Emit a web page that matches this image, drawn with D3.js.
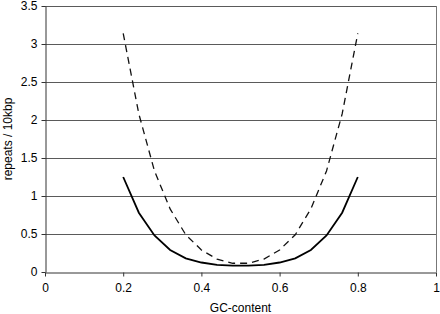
<!DOCTYPE html>
<html>
<head>
<meta charset="utf-8">
<script src="https://cdn.jsdelivr.net/npm/d3@7"></script>
<style>
  body { margin: 0; background: #fff; }
  svg { display: block; font-family: "Liberation Sans", Arial, sans-serif; }
</style>
</head>
<body>
<svg></svg>
<script>
let gcContent = [0.2, 0.24, 0.28, 0.32, 0.36, 0.4, 0.44, 0.48, 0.52, 0.56, 0.6, 0.64, 0.68, 0.72, 0.76, 0.8]
let solidValues = [1.25, 0.78, 0.48, 0.29, 0.18, 0.125, 0.095, 0.085, 0.085, 0.095, 0.125, 0.18, 0.29, 0.48, 0.78, 1.25]
let dashedValues = [3.14, 2.08, 1.33, 0.83, 0.49, 0.29, 0.17, 0.115, 0.115, 0.17, 0.29, 0.49, 0.83, 1.33, 2.08, 3.14]

let xTicks = [0, 0.2, 0.4, 0.6, 0.8, 1]
let yTicks = [0, 0.5, 1, 1.5, 2, 2.5, 3, 3.5]

let width = 440
let height = 314
let plotLeft = 45
let plotRight = 436
let plotTop = 6
let plotBottom = 272

let svg = d3.select('svg')
  .attr('width', width)
  .attr('height', height)

let xScale = d3.scaleLinear().domain([0, 1]).range([plotLeft, plotRight])
let yScale = d3.scaleLinear().domain([0, 3.5]).range([plotBottom, plotTop])

// horizontal grid lines
svg.append('g')
  .selectAll('line')
  .data(yTicks.filter(d => d > 0))
  .enter()
  .append('line')
  .attr('x1', plotLeft)
  .attr('x2', plotRight)
  .attr('y1', d => yScale(d) + 0.5)
  .attr('y2', d => yScale(d) + 0.5)
  .attr('stroke', '#5a5a5a')
  .attr('stroke-width', 1)

// right border of plot area
svg.append('line')
  .attr('x1', plotRight + 0.5)
  .attr('x2', plotRight + 0.5)
  .attr('y1', plotTop)
  .attr('y2', plotBottom)
  .attr('stroke', '#777')
  .attr('stroke-width', 1)

let xAxis = d3.axisBottom(xScale)
  .tickValues(xTicks)
  .tickSize(4)
  .tickSizeOuter(0)
  .tickFormat(d => String(d))

let yAxis = d3.axisLeft(yScale)
  .tickValues(yTicks)
  .tickSize(4)
  .tickSizeOuter(0)
  .tickFormat(d => String(d))

let gx = svg.append('g')
  .attr('transform', 'translate(0,' + (plotBottom + 0.5) + ')')
  .call(xAxis)
gx.selectAll('text').attr('font-size', 12).attr('fill', '#000').attr('dy', '1.05em')
gx.selectAll('line, path').attr('stroke', '#333')

let gy = svg.append('g')
  .attr('transform', 'translate(' + (plotLeft + 0.5) + ',0)')
  .call(yAxis)
gy.selectAll('text').attr('font-size', 12).attr('fill', '#000').attr('x', -8)
gy.selectAll('line, path').attr('stroke', '#333')

let line = d3.line()
  .x((d, i) => xScale(gcContent[i]))
  .y(d => yScale(d))

svg.append('path')
  .datum(dashedValues)
  .attr('d', line)
  .attr('fill', 'none')
  .attr('stroke', '#111')
  .attr('stroke-width', 1.3)
  .attr('stroke-dasharray', '7,5')

svg.append('path')
  .datum(solidValues)
  .attr('d', line)
  .attr('fill', 'none')
  .attr('stroke', '#000')
  .attr('stroke-width', 1.8)

svg.append('text')
  .attr('x', (plotLeft + plotRight) / 2)
  .attr('y', 312)
  .attr('text-anchor', 'middle')
  .attr('font-size', 12)
  .text('GC-content')

svg.append('text')
  .attr('transform', 'translate(12,' + ((plotTop + plotBottom) / 2) + ') rotate(-90)')
  .attr('text-anchor', 'middle')
  .attr('font-size', 12)
  .text('repeats / 10kbp')
</script>
</body>
</html>
